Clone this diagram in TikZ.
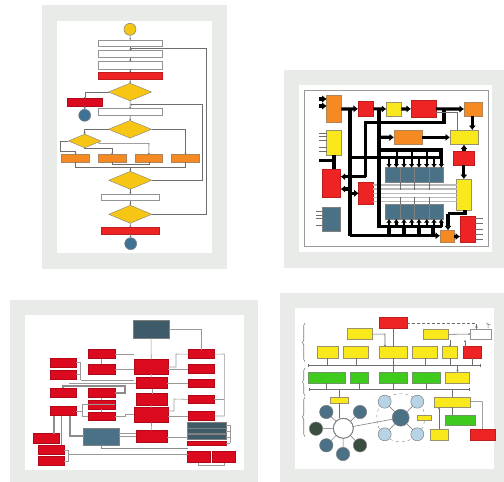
\documentclass[tikz,border=0pt]{standalone}
\usetikzlibrary{arrows.meta,decorations.pathreplacing,shapes.geometric}
\definecolor{panel}{HTML}{E9EBE8}
\definecolor{rd}{HTML}{EE2424}
\definecolor{drd}{HTML}{DC0A1E}
\definecolor{yl}{HTML}{FFD91A}
\definecolor{yl2}{HTML}{F8E81C}
\definecolor{gld}{HTML}{F7C514}
\definecolor{org}{HTML}{F58A22}
\definecolor{blu}{HTML}{3F7396}
\definecolor{sblu}{HTML}{4A7186}
\definecolor{nav}{HTML}{3F5A68}
\definecolor{lbl}{HTML}{B7D4E6}
\definecolor{grn}{HTML}{3FCB1E}
\definecolor{dgr}{HTML}{3A4E40}
\definecolor{ln}{HTML}{6E6E6E}
\tikzset{
 bxs/.style={draw=#1,line width=.6pt,inner sep=0pt,outer sep=0pt},
 whitebox/.style={bxs=gray!85,fill=white},
 redbox/.style={bxs=rd!80!black,fill=rd},
 darkred/.style={bxs=drd!80!black,fill=drd},
 yellowbox/.style={bxs=gray!80!yl,fill=yl2},
 orangebox/.style={bxs=gray!60!org,fill=org},
 bluebox/.style={bxs=gray,fill=sblu},
 navybox/.style={bxs=gray,fill=nav},
 greenbox/.style={bxs=gray!70!grn,fill=grn},
 flowdiamond/.style={diamond,aspect=2.4,draw=gray,line width=.4pt,fill=gld,inner sep=0pt,outer sep=0pt},
 roundn/.style={circle,inner sep=0pt,outer sep=0pt,draw=gray,line width=.5pt,fill=#1},
 thin1/.style={draw=ln,line width=.5pt},
 flow/.style={draw=ln,line width=.55pt,-{Stealth[length=2pt,width=2pt]}},
 heavy/.style={draw=black,line width=3.2pt},
 heavyarr/.style={heavy,-{Latex[length=4.5pt,width=7.5pt]}},
 midheavy/.style={draw=black,line width=2.4pt,-{Latex[length=3.5pt,width=5.5pt]}},
 pale/.style={draw=gray!55,line width=1.5pt},
 redln/.style={draw=gray!80,line width=.6pt},
 thickg/.style={draw=gray!90,line width=1.1pt},
}
\newcommand{\bx}[6][whitebox]{\node[#1,minimum width={(#4-#2)*1pt},minimum height={(#5-#3)*1pt}] (#6) at ({(#2+#4)/2},{(#3+#5)/2}) {};}
\newcommand{\dm}[5]{\node[flowdiamond,minimum width={2*#3*1pt},minimum height={2*#4*1pt}] (#5) at (#1,#2) {};}
\newcommand{\rn}[5]{\node[roundn=#4,minimum size={2*#3*1pt}] (#5) at (#1,#2) {};}
\begin{document}
\begin{tikzpicture}[x=1pt,y=-1pt]
\useasboundingbox (0,0) rectangle (504,482);
\fill[white] (0,0) rectangle (504,482);
% ---------- panels
\fill[panel] (42,5) rectangle (227,269);
\fill[white] (57,21) rectangle (212,253);
\fill[panel] (284,70) rectangle (504,268);
\fill[white] (299,85) rectangle (492,252);
\fill[panel] (10,300) rectangle (258,482);
\fill[white] (25,315) rectangle (243.5,470);
\fill[panel] (280,293) rectangle (504,482);
\fill[white] (295,308) rectangle (494,468.5);
% ---------- panel 1: flow chart
\rn{130}{29.3}{6}{gld}{st}
\bx{98.3}{40}{162.3}{46.7}{fa}
\bx{98.3}{50.7}{162.3}{57.7}{fb}
\bx{98.3}{61.7}{162.3}{69}{fc}
\bx[redbox]{98.3}{72.7}{162.3}{79.7}{fd}
\dm{130}{92}{21.5}{8.8}{da}
\bx[darkred]{67.3}{98.7}{102.3}{106}{fe}
\rn{84.7}{115.3}{6}{blu}{ea}
\bx{98.3}{108.7}{162.3}{115.7}{ff}
\dm{130}{129.3}{21.5}{8.8}{db}
\dm{84.7}{141}{16.3}{6.8}{dc}
\bx[orangebox]{61.7}{154.7}{89.3}{162.3}{oa}
\bx[orangebox]{98.3}{154.7}{126}{162.3}{ob}
\bx[orangebox]{135}{154.7}{162.7}{162.3}{oc}
\bx[orangebox]{171.7}{154.7}{199.3}{162.3}{od}
\dm{130.3}{180.3}{21.5}{9}{dd}
\bx{101.3}{194.3}{159.3}{200.7}{fg}
\dm{130.3}{214.3}{21.5}{9}{de}
\bx[redbox]{101.7}{227.7}{159.3}{234}{fh}
\rn{130.7}{243.7}{6}{blu}{eb}
\foreach \a/\b in {st/fa,fa/fb,fb/fc,fc/fd,fd/da,da/ff,ff/db,dd/fg,fg/de,de/fh,fh/eb} \draw[flow] (\a) -- (\b);
\draw[flow] (da.west) -| (fe.north);
\draw[flow] (fe) -- (ea);
\draw[flow] (db.west) -| (dc.north);
\draw[flow] (db.east) -| (od.north);
\coordinate (la) at (206.7,48.7); \coordinate (lb) at (202.7,104.7);
\coordinate (ta) at (130,48.7); \coordinate (tb) at (130,104.7);
\draw[flow] (de.east) -| (la) -- (ta);
\draw[flow] (dd.east) -| (lb) -- (tb);
\coordinate (pa) at (60.7,151.7); \coordinate (pb) at (84.7,148); \coordinate (pc) at (149,143.3);
\draw[flow] (dc.west) -| (pa) -| (oa.north);
\draw[flow] (dc.south) -- (pb) -| (ob.north);
\draw[flow] (dc.east) ++(-2,1) coordinate (pd) -- (pd |- pc) -- (pc) -- (oc.north);
\coordinate (ma) at (130.3,167.3); \coordinate (mb) at (130.3,164.5);
\draw[thin1] (oa.south) |- (ma) -| (od.south);
\draw[thin1] (ob.south) |- (mb) -| (oc.south);
\draw[flow] (ma) -- (dd.north);
% ---------- panel 2: block diagram
\draw[draw=gray!80,line width=.6pt] (304,90.7) rectangle (488,246.7);
\bx[orangebox]{326.7}{95}{341.3}{122.7}{ol}
\bx[redbox]{358}{101.7}{373.3}{116}{ra}
\bx[yellowbox]{386.3}{102}{401.3}{116}{ya}
\bx[redbox]{411}{100}{436}{117.7}{rb}
\bx[orangebox]{464}{102}{482.3}{116}{orr}
\bx[yellowbox]{326.7}{130}{341.3}{155}{yl}
\bx[orangebox]{394}{130}{422}{144.7}{om}
\bx[yellowbox]{450}{130}{478}{144.7}{yr}
\bx[redbox]{453}{151}{474.7}{165.3}{rr}
\bx[redbox]{322.7}{169}{340.7}{197.7}{rl}
\bx[redbox]{358.7}{182.7}{373.3}{204.3}{rm}
\bx[yellowbox]{456.7}{179}{471.3}{210.3}{yt}
\bx[redbox]{460}{216}{475.3}{242.3}{rq}
\bx[orangebox]{440}{230.3}{454}{242.7}{os}
\bx[bluebox]{322.3}{207.7}{340.3}{231}{bl}
\foreach \i/\x in {1/385.3,2/399.8,3/414.3,4/428.8}{
 \bx[bluebox]{\x}{167.7}{\x+14.5}{182.3}{gt\i}
 \bx[bluebox]{\x}{204.3}{\x+14.5}{219}{gb\i}
}
% pale lines between the memory banks
\foreach \y in {185,189,193.3,197.3,201.7}{
 \coordinate (py) at (400,\y);
 \draw[pale] (py -| rm.east) -- (py -| yt.west);
}
\foreach \i in {1,2,3}{
 \coordinate (gx) at (\i*14.5+385.3,190);
 \draw[thin1] (gx |- gt1.south) -- (gx);
 \coordinate (gy) at (\i*14.5+385.3,197);
 \draw[thin1] (gy) -- (gy |- gb1.north);
}
% small signal lines
\foreach \y in {133.3,136.7,140.7,147.3,151.7}{\coordinate (sg) at (319,\y); \draw[thin1] (sg) -- (sg -| yl.west);}
\foreach \y in {211.7,215,218.3,225}{\coordinate (sg) at (316,\y); \draw[thin1] (sg) -- (sg -| bl.west);}
\foreach \y in {218.3,223.3,229,234.3,239}{\coordinate (sg) at (483,\y); \draw[thin1] (rq.east |- sg) -- (sg);}
\coordinate (iA) at (319,99); \coordinate (iB) at (319,106); \coordinate (iC) at (319,160.7);
\draw[heavyarr] (iA) -- (iA -| ol.west);
\draw[heavyarr] (iB) -- (iB -| ol.west);
\coordinate (bA) at (350,109); \coordinate (bAe) at (350,235.7);
\coordinate (bB) at (379,109); \coordinate (bBe) at (379,226.7);
\draw[heavy] (iC) -- (333,160.7);
\draw[heavy] (yl.south) -- (yl.south |- rl.north);
\draw[heavyarr] (ol.east |- bA) -- (ra.west);
\draw[heavyarr] (ra.east) -- (ya.west);
\draw[heavyarr] (ya.east) -- (rb.west);
\draw[heavyarr] (rb.east) -- (orr.west);
\draw[heavy] (bA) -- (bAe);
\draw[heavyarr] (bAe) -- (bAe -| os.west);
\draw[heavy] (bB) -- (bBe) -- (441.5,226.7);
\coordinate (rtA) at (444,109); \coordinate (rtB) at (444,122.3); \coordinate (rtC) at (365.5,122.3); \coordinate (rtD) at (365.5,176.7);
\draw[heavy] (rtA) -- (rtB) -- (rtC) -- (rtD);
\draw[heavyarr] (rtD) -- (rtD -| rl.east);
\coordinate (rlA) at (350,189); \draw[heavyarr] (rlA) -- (rlA -| rl.east);
\coordinate (rmA) at (350,193.3); \draw[heavyarr] (rmA) -- (rmA -| rm.west);
\coordinate (omA) at (379,137.3); \draw[heavyarr] (omA) -- (om.west);
\draw[heavyarr] (om.east) -- (yr.west);
\coordinate (orA) at (472.3,116); \draw[heavyarr] (orA) -- (orA |- yr.north);
\coordinate (rrA) at (464,151); \draw[heavyarr] (rrA) -- (rrA |- yr.south);
\draw[heavyarr] (rr.south) ++(0,0) coordinate (rrB) -- (rrB |- yt.north);
\coordinate (bC) at (379,150); \coordinate (bD) at (441,150); \coordinate (bE) at (350,157.3); \coordinate (bF) at (441,157.3);
\draw[heavy] (bC) -- (bD) -- (bF);
\draw[heavy] (bE) -- (bF);
\foreach \x in {397,412,427}{\coordinate (v) at (\x,150); \draw[heavy,line width=2.4pt] (v) -- (v |- bE);}
\foreach \x in {389,396.3,404,411.7,419,426.7,434,441.3}{
 \coordinate (vt) at (\x,157.3);
 \draw[midheavy] (vt) -- (vt |- gt1.north);
 \coordinate (vb) at (\x,226.7);
 \draw[midheavy] (vb) -- (vb |- gb1.south);
}
\foreach \x in {389,404,419,433}{\coordinate (w) at (\x,226.7); \draw[heavy] (w) -- (w |- bAe);}
\coordinate (ytA) at (465,210.3); \coordinate (ytB) at (465,213.5); \coordinate (ytC) at (448,213.5);
\draw[heavy] (ytA) -- (ytB) -- (ytC);
\draw[heavyarr] (ytC) -- (ytC |- os.north);
\draw[heavyarr] (os.east) -- (os.east -| rq.west);
\coordinate (gl) at (457.3,112);
\draw[thin1] (rb.east |- gl) -- (gl) -- (gl |- yr.north);
% ---------- panel 3: red block diagram
\bx[darkred]{50.7}{358}{76.3}{367.3}{ca}
\bx[darkred]{50.7}{370.3}{76.3}{379}{cb}
\bx[darkred]{50.7}{388.3}{76.3}{397.3}{cc}
\bx[darkred]{50.7}{406.7}{76.3}{415.7}{cd}
\bx[darkred]{88.3}{349.3}{115}{358.7}{ce}
\bx[darkred]{88.3}{364.3}{115}{374}{cf}
\bx[darkred]{88.3}{388.3}{115}{397.7}{cg}
\bx[darkred]{88.3}{400}{115}{409.3}{ch}
\bx[darkred]{88.3}{412}{115}{420.7}{ci}
\bx[darkred]{33.3}{433.7}{59.3}{443}{cj}
\bx[darkred]{38.3}{445.3}{64.3}{454.3}{ck}
\bx[darkred]{38.3}{456.7}{64.3}{465.7}{cl}
\bx[bluebox]{83.7}{428.7}{119.3}{445.7}{cb1}
\bx[navybox]{133}{320}{169}{338.3}{cn}
\bx[darkred]{134.3}{359.3}{168.3}{374}{da1}
\bx[darkred]{136.3}{377.7}{167.3}{388.7}{da2}
\bx[darkred]{136.3}{393.7}{167.3}{405.3}{da3}
\bx[darkred]{134.3}{407.7}{168.3}{422.7}{da4}
\bx[darkred]{136.3}{430.7}{167.3}{442.7}{da5}
\bx[darkred]{188}{349.7}{214.3}{358.7}{ra1}
\bx[darkred]{188}{364.3}{214.3}{373.3}{ra2}
\bx[darkred]{188}{379}{214.3}{387.7}{ra3}
\bx[darkred]{188}{395}{214.3}{403.7}{ra4}
\bx[darkred]{188}{411.7}{214.3}{420.3}{ra5}
\bx[navybox]{187.7}{422.7}{226.3}{428.3}{sa}
\bx[navybox]{187.7}{428.7}{226.3}{433.7}{sb}
\bx[navybox]{187.7}{434.3}{226.3}{439.3}{sc}
\bx[darkred]{187.7}{441}{226.3}{445.7}{sd}
\bx[darkred]{187.7}{451.7}{210.3}{462.7}{se}
\bx[darkred]{212.3}{451.7}{235}{462.7}{sf}
\draw[redln] (cn) -- (da1); \draw[redln] (da1) -- (da2); \draw[redln] (da2) -- (da3); \draw[redln] (da3) -- (da4); \draw[redln] (da4) -- (da5);
\draw[redln] (cn.east) -| (ra1.north);
\coordinate (rbr) at (224.3,354);
\draw[redln] (ra1.east) -- (rbr) -- (rbr |- ra5.east) -- (ra5.east);
\draw[redln] (ra4.east) -- (ra4.east -| rbr);
\coordinate (sbr) at (230.3,425);
\foreach \s in {sa,sb,sc,sd}{\draw[redln] (\s.east) -- (\s.east -| sbr);}
\draw[redln] (sbr) -- (sbr |- sd.east);
\coordinate (bra) at (198.3,465.7); \coordinate (brb) at (224.3,465.7);
\draw[redln] (se.south -| bra) -- (bra) -- (brb) -- (brb |- sf.south);
% left side lines
\coordinate (gA) at (80.5,362); \coordinate (gB) at (80.5,380);
\draw[redln] (ca.east) -- (ca.east -| gA) -- (gB);
\draw[redln] (cb.east) -- (cb.east -| gA);
\draw[redln] (gB) -- (gB -| da1.west);
\coordinate (gC) at (69,383.3); \draw[redln] (gC) -- (gC -| da2.west);
\coordinate (gD) at (63,386); \coordinate (gE) at (125,386);
\draw[thickg] (gD |- cc.north) -- (gD) -- (gE) -- (gE |- cg.east) -- (cg.east);
\draw[redln] (ce.east) -- (ce.east -| da1.west);
\draw[redln] (cf.east) -- (cf.east -| da1.west);
\coordinate (gF) at (82,410);
\draw[redln] (cd.east) -- (cd.east -| gF) -- (gF |- ch.east) -- (ch.east);
\draw[redln] (gF) |- (ci.west);
\draw[redln] (ch) -- (ci); \draw[redln] (cg) -- (ch); \draw[redln] (ce) -- (cf);
\coordinate (gG) at (54,415.7); \coordinate (gH) at (61.7,415.7); \coordinate (gI) at (70,415.7);
\draw[thickg] (gG) -- (gG |- cj.north);
\draw[thickg] (gH) -- (gH |- ck.north);
\draw[thickg] (gI) |- (cb1.west |- 0,436);
\coordinate (gJ) at (101.7,448.7);
\draw[thickg] (cb1.south -| gJ) -- (gJ) -- (gJ -| se.west);
\coordinate (gK) at (68.3,454);
\draw[redln] (ck.east) -- (ck.east -| gK) -- (gK |- cl.east) -- (cl.east);
\draw[redln] (gK) -- (gK -| sd.west);
\draw[redln] (cb1.east |- 0,433) -- (da5.west |- 0,433);
\draw[redln] (cb1.east |- 0,436.5) -- (da5.west |- 0,436.5);
\coordinate (gL) at (125,414);
\draw[redln] (ci.east) -- (ci.east -| gL) -- (gL) -- (gL -| da4.west);
% right side lines
\coordinate (hA) at (176,354); \coordinate (hB) at (176,367);
\draw[redln] (ra1.west) -- (hA) -- (hB) -- (hB -| da1.east);
\draw[redln] (ra2.west) -- (ra2.west -| da1.east);
\draw[redln] (ra3.west) -- (ra3.west -| da2.east);
\coordinate (hC) at (174,399); \coordinate (hD) at (174,411);
\draw[redln] (ra4.west) -- (hC) -- (hD) -- (hD -| da4.east);
\draw[redln] (ra5.west) -- (ra5.west -| da4.east);
\draw[redln] (sc.west) -- (sc.west -| da5.east);
% ---------- panel 4: system architecture
\bx[redbox]{379.3}{317.7}{407.3}{328.7}{ta1}
\bx[yellowbox]{347.7}{328.7}{372.7}{339.7}{tb1}
\bx[yellowbox]{423}{329}{448.7}{339.7}{tc1}
\bx[whitebox]{470.3}{329}{491}{339}{td1}
\bx[yellowbox]{317.3}{346.7}{338.3}{358}{ka}
\bx[yellowbox]{343.7}{346.7}{368.7}{358}{kb}
\bx[yellowbox]{379.3}{346.7}{407.3}{358}{kc}
\bx[yellowbox]{412.7}{346.7}{437}{358}{kd}
\bx[yellowbox]{442}{346.7}{457.7}{358}{ke}
\bx[redbox]{463.3}{346.7}{481}{358}{kf}
\bx[greenbox]{308.3}{372}{345}{383}{ga}
\bx[greenbox]{350.7}{372}{368.7}{383}{gb}
\bx[greenbox]{379.3}{372}{407.3}{383}{gc}
\bx[greenbox]{412.7}{372}{440.3}{383}{gd}
\bx[yellowbox]{445.7}{372}{469.3}{383}{ge}
\coordinate (busP) at (308.3,365); \coordinate (busQ) at (480.7,365);
\coordinate (busR) at (309,389); \coordinate (busS) at (470,389);
\draw[thin1,{Bar[width=3pt]}-{Bar[width=3pt]},line width=.7pt] (busP) -- (busQ);
\draw[thin1,{Bar[width=3pt]}-{Bar[width=3pt]},line width=.7pt] (busR) -- (busS);
\foreach \n in {ka,kb,kc,kd,ke,kf}{\draw[thin1,line width=.7pt] (\n.south) -- (\n.south |- busP);}
\foreach \n in {ga,gb,gc,gd}{\draw[thin1,line width=.7pt] (\n.south) -- (\n.south |- busR);}
\draw[thin1,line width=.7pt] (gc.north) -- (gc.north |- busP);
\draw[flow] (ge.north |- busP) -- (ge.north);
\draw[thin1,line width=.7pt] (ta1.south) -- (kc.north);
\coordinate (tA) at (385,334);
\draw[flow] (tb1.east) -- (tA) -- (tA |- kc.north);
\coordinate (tB) at (450,339.7);
\draw[flow] (tB) -- (tB |- ke.north);
\draw[flow] (tc1.east) -- (td1.west);
\coordinate (tC) at (476.5,323.3);
\draw[thin1,densely dashed,-{Stealth[length=2.5pt,width=2.5pt]}] (ta1.east |- tC) -- (tC) -- (tC |- td1.north);
\coordinate (ant) at (488,328);
\draw[thin1] (ant) -- +(0,-4.5) (ant) ++(-1.5,-5) -- ++(1.5,1.5) -- ++(2.5,.3);
\coordinate (kfA) at (465,340);
\draw[flow] (kfA |- kf.north) -- (kfA);
% braces
\foreach \a/\b in {323/361.7,368/396,397/436.7}{
 \coordinate (brA) at (305,\b); \coordinate (brB) at (305,\a);
 \draw[draw=gray,line width=.6pt,decorate,decoration={brace,amplitude=2.5pt}] (brA) -- (brB);
}
% ring network
\rn{343.3}{428.3}{10}{white}{ring}
\rn{326.3}{412}{6.7}{sblu}{sa1}
\rn{360}{412}{6.7}{sblu}{sa2}
\rn{316}{428.7}{6.7}{dgr}{sa3}
\rn{326.3}{445.3}{6.7}{sblu}{sa4}
\rn{360}{445.3}{6.7}{dgr}{sa5}
\rn{343}{454}{6.7}{sblu}{sa6}
\foreach \n in {sa1,sa2,sa3,sa4,sa5,sa6}{\draw[thin1] (ring) -- (\n);}
\draw[draw=gray,line width=.9pt] (ring) circle[radius=10pt];
\bx[yellowbox]{330.7}{397}{348.3}{403.3}{yc}
\coordinate (ycA) at (339.3,389);
\draw[thin1] (ycA) -- (ycA |- yc.north);
\draw[thin1] (yc.south) -- (yc.south |- ring.north);
\node[circle,draw=gray,dashed,line width=.4pt,minimum size=48pt,inner sep=0pt] (dr) at (400.7,417.7) {};
\rn{384.7}{401.7}{6.5}{lbl}{la1}
\rn{417.3}{401.7}{6.5}{lbl}{la2}
\rn{384.7}{434.3}{6.5}{lbl}{la3}
\rn{417.3}{434.3}{6.5}{lbl}{la4}
\rn{400.7}{417.7}{8.5}{sblu}{hub}
\foreach \n in {la1,la2,la3,la4}{\draw[thin1] (hub) -- (\n);}
\draw[thin1] (ring) -- (hub);
\bx[yellowbox]{417}{415.3}{431.7}{420.7}{yd}
\bx[yellowbox]{434.3}{397}{470}{407.3}{yb}
\bx[greenbox]{445.7}{415.3}{475}{425.3}{gf}
\bx[yellowbox]{430}{429}{448}{440}{yf}
\bx[redbox]{470}{429}{495}{440}{rf}
\coordinate (ybA) at (452.7,389);
\draw[thin1,line width=.7pt] (ybA) -- (ybA |- yb.north);
\draw[thin1,line width=.7pt] (yb.south) -- (gf.north -| yb.south);
\coordinate (yfA) at (439,429);
\draw[flow] (yfA) -- (yfA |- yb.south);
\coordinate (rfA) at (482.3,401.7);
\draw[thin1] (rf.north) -- (rfA) -- (yb.east |- rfA);
\end{tikzpicture}
\end{document}
